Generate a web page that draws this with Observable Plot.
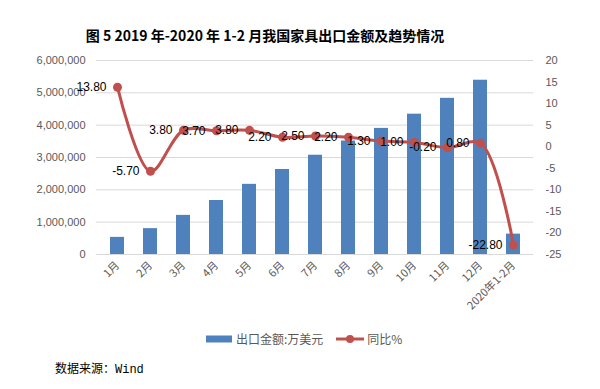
<!DOCTYPE html>
<html>
<head>
<meta charset="utf-8">
<script src="https://cdn.jsdelivr.net/npm/d3@7"></script>
<script src="https://cdn.jsdelivr.net/npm/@observablehq/plot@0.6"></script>
<style>
  html, body { margin: 0; padding: 0; background: #fff; }
  #wrap { position: relative; width: 600px; height: 389px; overflow: hidden; font-family: "Liberation Sans", "Noto Sans CJK SC", sans-serif; }
  #chart { position: absolute; left: 0; top: 0; }
  #title { position: absolute; top: 25px; left: 0; width: 530px; text-align: center; font: bold 14px "Noto Sans CJK SC", sans-serif; color: #000; white-space: nowrap; }
  #legend { position: absolute; top: 330px; left: 206px; font: 12px "Noto Sans CJK SC", sans-serif; color: #595959; display: flex; align-items: center; white-space: nowrap; }
  #legend .item { display: flex; align-items: center; }
  #source { position: absolute; top: 359px; left: 55px; font: 12px "Liberation Mono", "Noto Sans CJK SC", monospace; color: #000; white-space: nowrap; }
</style>
</head>
<body>
<div id="wrap">
  <div id="chart"></div>
  <div id="title"></div>
  <div id="legend"></div>
  <div id="source"></div>
</div>
<script>
const titleText = "图 5 2019 年-2020 年 1-2 月我国家具出口金额及趋势情况";
const sourceText = "数据来源：Wind";
const seriesNames = ["出口金额:万美元", "同比%"];
const categories = ["1月","2月","3月","4月","5月","6月","7月","8月","9月","10月","11月","12月","2020年1-2月"];
const exportValues = [530000, 800000, 1210000, 1670000, 2170000, 2630000, 3070000, 3510000, 3900000, 4340000, 4830000, 5390000, 630000];
const yoyValues = [13.8, -5.7, 3.8, 3.7, 3.8, 2.2, 2.5, 2.2, 1.3, 1.0, -0.2, 0.8, -22.8];
const leftTicks = [0, 1000000, 2000000, 3000000, 4000000, 5000000, 6000000];
const rightTicks = [-25, -20, -15, -10, -5, 0, 5, 10, 15, 20];

const leftMax = 6000000, rMin = -25, rMax = 20;
const toLeft = v => (v - rMin) / (rMax - rMin) * leftMax;
const fromLeft = y => y / leftMax * (rMax - rMin) + rMin;

const data = categories.map((c, i) => ({cat: c, amount: exportValues[i], yoy: yoyValues[i], yoyY: toLeft(yoyValues[i])}));

const blue = "#4F81BD", red = "#C0504D", gray = "#595959";

const chart = Plot.plot({
  width: 600,
  height: 389,
  marginTop: 60,
  marginBottom: 135,
  marginLeft: 96,
  marginRight: 67,
  style: {fontFamily: "Liberation Sans, Noto Sans CJK SC, sans-serif", background: "transparent"},
  x: {domain: categories, paddingInner: 0.58, paddingOuter: 0.29, label: null},
  y: {domain: [0, leftMax], label: null},
  marks: [
    Plot.gridY(leftTicks, {stroke: "#D9D9D9", strokeOpacity: 1, strokeWidth: 1}),
    Plot.axisY(leftTicks, {anchor: "left", tickSize: 0, tickPadding: 11, tickFormat: d3.format(","), fill: gray, fontSize: 11, label: null}),
    Plot.axisY(rightTicks.map(toLeft), {anchor: "right", tickSize: 0, tickPadding: 12, tickFormat: d => String(Math.round(fromLeft(d))), fill: gray, fontSize: 11, label: null}),
    Plot.axisX({tickSize: 0, tickPadding: 9, tickRotate: -45, fill: gray, fontSize: 11, label: null, fontFamily: "Noto Sans CJK SC, sans-serif"}),
    Plot.barY(data, {x: "cat", y: "amount", fill: blue}),
    Plot.line(data, {x: "cat", y: "yoyY", stroke: red, strokeWidth: 3, curve: "catmull-rom"}),
    Plot.dot(data, {x: "cat", y: "yoyY", r: 4.5, fill: red, stroke: "none"}),
    Plot.text(data, {x: "cat", y: "yoyY", text: d => d.yoy.toFixed(2), textAnchor: "end", dx: -11, fill: "#000", fontSize: 12})
  ]
});
document.getElementById("chart").appendChild(chart);

document.getElementById("title").textContent = titleText;
document.getElementById("source").textContent = sourceText;

const legend = document.getElementById("legend");
legend.innerHTML =
  `<span class="item"><svg width="27" height="8" style="margin-right:3px"><rect x="0" y="0.5" width="26" height="7" fill="${blue}"/></svg>${seriesNames[0]}</span>` +
  `<span class="item" style="margin-left:13px"><svg width="29" height="10" style="margin-right:2px"><line x1="0" y1="5" x2="28" y2="5" stroke="${red}" stroke-width="3"/><circle cx="14" cy="5" r="4" fill="${red}"/></svg>${seriesNames[1]}</span>`;
</script>
</body>
</html>
